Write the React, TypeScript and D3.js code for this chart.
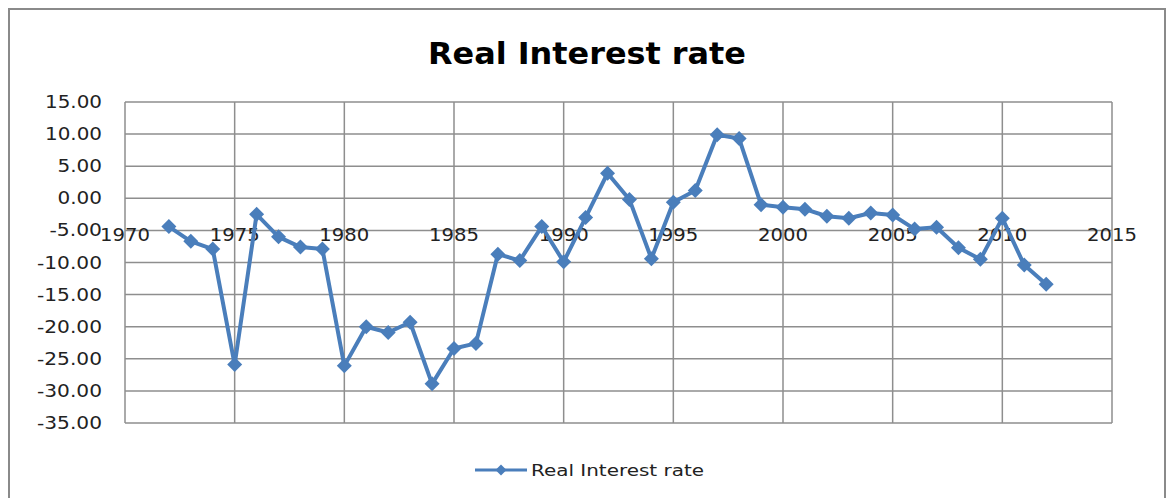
import React from "react";
import * as d3 from "d3";

const years = [1972,1973,1974,1975,1976,1977,1978,1979,1980,1981,1982,1983,1984,1985,1986,1987,1988,1989,1990,1991,1992,1993,1994,1995,1996,1997,1998,1999,2000,2001,2002,2003,2004,2005,2006,2007,2008,2009,2010,2011,2012];
const rates = [-4.4,-6.7,-7.9,-25.9,-2.5,-6.0,-7.6,-7.9,-26.1,-20.0,-20.9,-19.3,-28.9,-23.4,-22.6,-8.7,-9.7,-4.4,-9.9,-3.0,3.9,-0.2,-9.4,-0.6,1.2,9.9,9.3,-1.0,-1.4,-1.7,-2.8,-3.1,-2.3,-2.6,-4.8,-4.5,-7.7,-9.5,-3.1,-10.4,-13.4];
const xTicks = [1970,1975,1980,1985,1990,1995,2000,2005,2010,2015];
const yTicks = [15,10,5,0,-5,-10,-15,-20,-25,-30,-35];
const title = "Real Interest rate";
const seriesName = "Real Interest rate";

const W = 1170, H = 498;
const left = 125, right = 1112, top = 102, bottom = 423;
const blue = "#4a7ebb";
const grid = "#8e8e8e";
const font = "'DejaVu Sans', sans-serif";

function labelLen(s: string) {
  let w = 0;
  for (const c of s) w += c === "." ? 7 : c === "-" ? 8 : 12.5;
  return w;
}

export default function App() {
  const x = d3.scaleLinear().domain([1970, 2015]).range([left, right]);
  const y = d3.scaleLinear().domain([-35, 15]).range([bottom, top]);
  const pts: [number, number][] = years.map((yr, i) => [x(yr), y(rates[i])]);
  const line = d3.line()(pts) || "";
  const diamond = (cx: number, cy: number, r: number) =>
    `M${cx},${cy - r}L${cx + r},${cy}L${cx},${cy + r}L${cx - r},${cy}Z`;

  return (
    <svg width={W} height={H} style={{ position: "absolute", left: 0, top: 0, background: "#fff" }}>
      <rect x={9} y={9} width={1156} height={500} fill="#fff" stroke="#8a8a8a" strokeWidth={2} />
      <text x={587} y={64} textAnchor="middle" fontFamily={font} fontWeight="bold" fontSize={30}
        textLength={318} lengthAdjust="spacingAndGlyphs" fill="#000">{title}</text>
      {yTicks.map((t) => (
        <line key={"h" + t} x1={left} x2={right} y1={y(t)} y2={y(t)} stroke={grid} strokeWidth={1.5} />
      ))}
      {xTicks.map((t) => (
        <line key={"v" + t} x1={x(t)} x2={x(t)} y1={top} y2={bottom} stroke={grid} strokeWidth={1.5} />
      ))}
      {yTicks.map((t) => {
        const s = t.toFixed(2);
        return (
          <text key={"yl" + t} x={102} y={y(t) + 6} textAnchor="end" fontFamily={font} fontSize={17}
            textLength={labelLen(s)} lengthAdjust="spacingAndGlyphs" fill="#222">{s}</text>
        );
      })}
      {xTicks.map((t) => {
        const s = String(t);
        return (
          <text key={"xl" + t} x={x(t)} y={y(0) + 43} textAnchor="middle" fontFamily={font} fontSize={17}
            textLength={labelLen(s)} lengthAdjust="spacingAndGlyphs" fill="#222">{s}</text>
        );
      })}
      <path d={line} fill="none" stroke={blue} strokeWidth={4} strokeLinejoin="round" />
      {pts.map(([cx, cy], i) => (
        <path key={"m" + i} d={diamond(cx, cy, 7.5)} fill={blue} />
      ))}
      <line x1={475} x2={527} y1={470} y2={470} stroke={blue} strokeWidth={3} />
      <path d={diamond(501, 470, 5.5)} fill={blue} />
      <text x={531} y={476} fontFamily={font} fontSize={16} textLength={173} lengthAdjust="spacingAndGlyphs" fill="#222">{seriesName}</text>
    </svg>
  );
}
